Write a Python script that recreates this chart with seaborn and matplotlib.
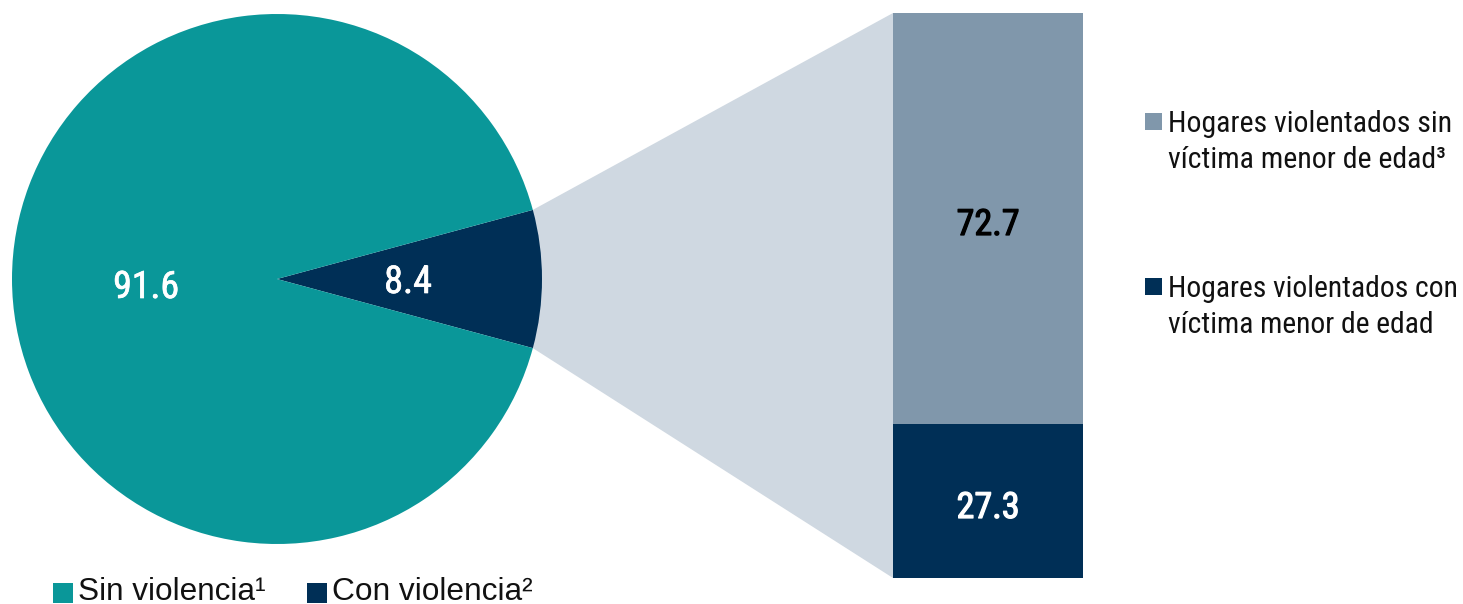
import matplotlib
matplotlib.use("Agg")
import matplotlib.pyplot as plt
from matplotlib import font_manager
from matplotlib import patheffects
from matplotlib.patches import Polygon, Rectangle
import numpy as np
import pandas as pd
import seaborn as sns

# Data
pie_labels = ["Con violencia²", "Sin violencia¹"]
pie_values = [8.4, 91.6]
bar_labels = ["Hogares violentados sin\nvíctima menor de edad³",
              "Hogares violentados con\nvíctima menor de edad"]
bar_values = [72.7, 27.3]

TEAL = "#0a9799"
NAVY = "#002f56"
GREYBLUE = "#8097ab"
LIGHT = "#cfd8e1"

sns.set_theme(style="white")

fonts = font_manager.fontManager.ttflist
names = {f.name for f in fonts}
narrow, stretch = "DejaVu Sans", "condensed"
for cand in ["Liberation Sans Narrow", "Roboto Condensed", "Open Sans Condensed",
             "Noto Sans Condensed", "Arial Narrow"]:
    if cand in names:
        narrow, stretch = cand, "normal"
        break
plt.rcParams["font.family"] = ["Liberation Sans", "DejaVu Sans"]
NARROW = dict(family=narrow, fontstretch=stretch)

W, H = 1463, 604
fig = plt.figure(figsize=(W / 100, H / 100), dpi=100)
ax = fig.add_axes([0, 0, 1, 1])

# Pie (y measured upward from bottom of figure)
cx, cy, r = 277, H - 279, 265
half = pie_values[0] / 100 * 360 / 2
ax.pie(pie_values, colors=[NAVY, TEAL], startangle=-half, counterclock=True,
       center=(cx, cy), radius=r, frame=True,
       wedgeprops=dict(linewidth=0))
ax.set_xlim(0, W)
ax.set_ylim(0, H)
ax.set_aspect("equal")
ax.axis("off")

# Stacked bar geometry
bx0, bx1 = 893, 1083
by_top, by_bot = H - 13, H - 578

# Connector from the small slice to the bar
a = np.deg2rad(half)
p_top = (cx + r * np.cos(a), cy + r * np.sin(a))
p_bot = (cx + r * np.cos(a), cy - r * np.sin(a))
ax.add_patch(Polygon([p_top, (bx0, by_top), (bx0, by_bot), p_bot],
                     closed=True, facecolor=LIGHT, edgecolor="none", zorder=0))

renderer = fig.canvas.get_renderer()


def fit(txt, width):
    """Scale a text's font size so that its widest line spans `width` pixels."""
    bb = txt.get_window_extent(renderer=renderer)
    txt.set_fontsize(txt.get_fontsize() * width / bb.width)


def thicken(color, lw):
    return [patheffects.withStroke(linewidth=lw, foreground=color)]


# Pie value labels (regular weight with a slight outline for a medium look)
t = ax.text(146, H - 298, f"{pie_values[1]:.1f}", color="white", fontsize=28,
            fontweight="normal", ha="center", va="baseline",
            path_effects=thicken("white", 0.5), **NARROW)
fit(t, 66)
t = ax.text(408, H - 293, f"{pie_values[0]:.1f}", color="white", fontsize=28,
            fontweight="normal", ha="center", va="baseline",
            path_effects=thicken("white", 0.5), **NARROW)
fit(t, 48)

# Stacked bar drawn with seaborn
bax = fig.add_axes([bx0 / W, by_bot / H, (bx1 - bx0) / W, (by_top - by_bot) / H])
df = pd.DataFrame({"g": ["x"], "total": [sum(bar_values)], "low": [bar_values[1]]})
sns.barplot(data=df, x="g", y="total", color=GREYBLUE, width=1.0,
            saturation=1, ax=bax, linewidth=0)
sns.barplot(data=df, x="g", y="low", color=NAVY, width=1.0,
            saturation=1, ax=bax, linewidth=0)
bax.set_xlim(-0.5, 0.5)
bax.set_ylim(0, 100)
bax.axis("off")

t = bax.text(988, H - 235, f"{bar_values[0]:.1f}", color="black", fontsize=30,
             fontweight="normal", ha="center", va="baseline",
             transform=ax.transData, path_effects=thicken("black", 0.9), **NARROW)
fit(t, 63)
t = bax.text(988, H - 518, f"{bar_values[1]:.1f}", color="white", fontsize=30,
             fontweight="normal", ha="center", va="baseline",
             transform=ax.transData, path_effects=thicken("white", 0.9), **NARROW)
fit(t, 63)

# Right legend
for (ytop, col, lab, wid) in [(113, GREYBLUE, bar_labels[0], 284),
                              (278, NAVY, bar_labels[1], 290)]:
    ax.add_patch(Rectangle((1145, H - ytop - 17), 17, 17, facecolor=col,
                           edgecolor="none"))
    t = ax.text(1168, H - ytop - 19, lab.split("\n")[0], fontsize=21,
                color="#111111", ha="left", va="baseline", **NARROW)
    fit(t, wid)
    ax.text(1168, H - ytop - 55, lab.split("\n")[1], fontsize=t.get_fontsize(),
            color="#111111", ha="left", va="baseline", **NARROW)

# Bottom legend
for (x, col, lab, wid) in [(53, TEAL, pie_labels[1], 188),
                           (307, NAVY, pie_labels[0], 201)]:
    ax.add_patch(Rectangle((x, H - 603), 20, 20, facecolor=col, edgecolor="none"))
    t = ax.text(x + 25, H - 600, lab, fontsize=19, color="#111111",
                ha="left", va="baseline")
    fit(t, wid)

fig.savefig("out.png", dpi=100)
